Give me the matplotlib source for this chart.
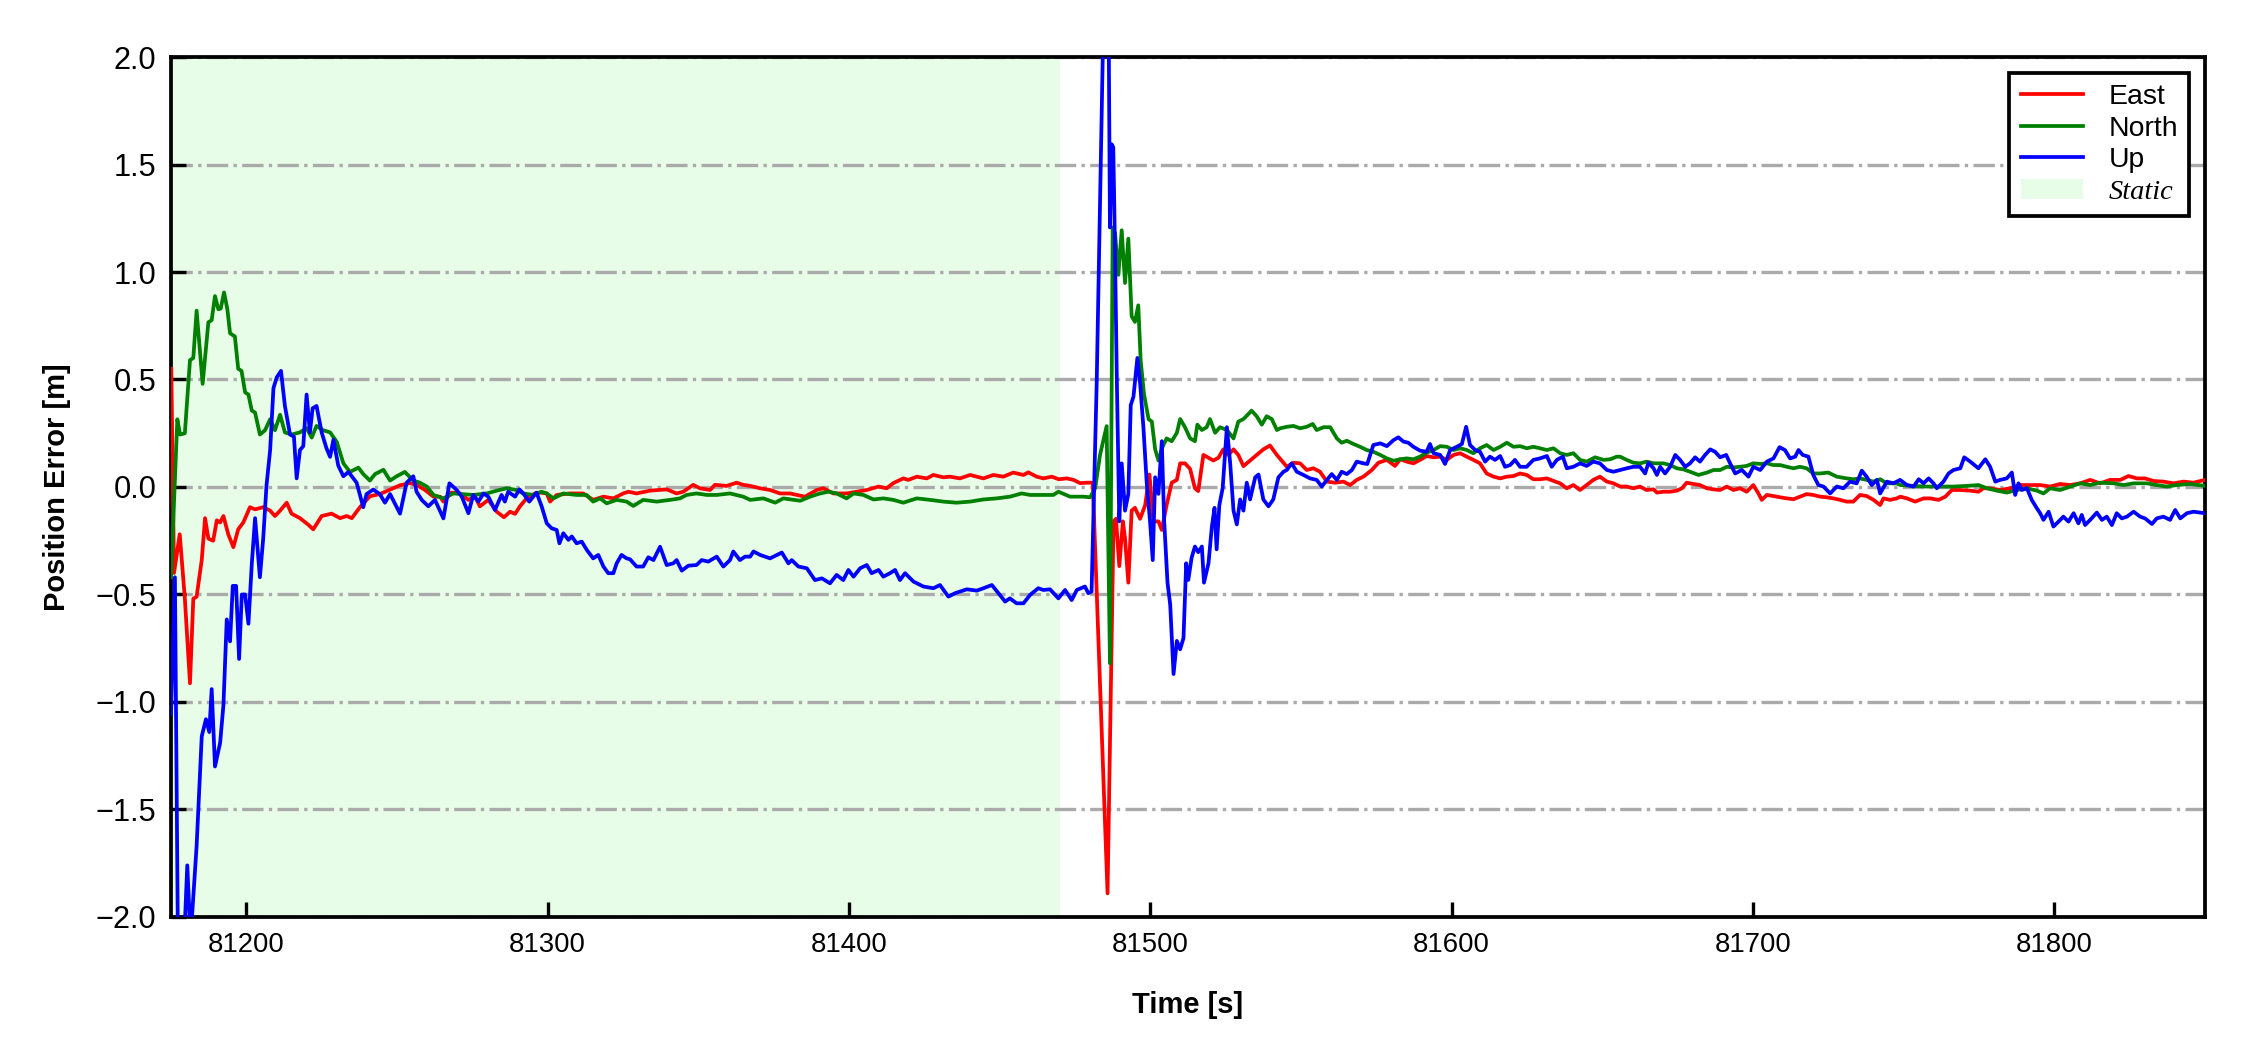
import numpy as np
import matplotlib.pyplot as plt
from matplotlib.patches import Patch
from matplotlib.lines import Line2D

# ---- data (time in s, error in m) ----
t_east = [81175.1, 81176.0, 81177.9, 81179.6, 81181.3, 81182.4, 81183.5, 81185.2, 81186.3, 81187.4,
          81189.0, 81190.2, 81191.3, 81192.4, 81194.0, 81195.7, 81197.3, 81199.0, 81201.2, 81202.9,
          81205.6, 81207.9, 81209.5, 81211.2, 81213.4, 81215.0, 81217.8, 81220.6, 81222.2, 81225.0,
          81228.3, 81231.1, 81233.3, 81235.0, 81237.7, 81241.0, 81244.3, 81247.7, 81251.0, 81254.3,
          81256.5, 81259.3, 81262.1, 81264.3, 81265.4, 81268.1, 81270.9, 81273.7, 81275.9, 81277.5,
          81280.3, 81283.1, 81285.5, 81287.5, 81289.2, 81290.8, 81293.0, 81295.8, 81297.5, 81299.7,
          81300.8, 81303.0, 81307.4, 81311.8, 81315.1, 81318.5, 81321.8, 81325.1, 81326.8, 81329.5,
          81334.0, 81336.7, 81339.5, 81342.8, 81345.0, 81348.3, 81350.5, 81353.9, 81355.5, 81359.4,
          81362.7, 81364.9, 81367.2, 81370.5, 81373.8, 81377.1, 81380.4, 81385.4, 81389.3, 81391.5,
          81394.8, 81399.2, 81402.6, 81405.9, 81409.8, 81412.5, 81414.7, 81418.0, 81419.7, 81422.5,
          81425.8, 81428.0, 81431.3, 81433.5, 81436.8, 81440.2, 81444.6, 81447.9, 81451.2, 81454.5,
          81457.9, 81459.5, 81462.3, 81464.5, 81467.3, 81469.6, 81472.2, 81474.5, 81476.7, 81478.9,
          81480.9, 81485.8, 81487.8, 81488.6, 81489.7, 81490.9, 81491.6, 81492.7, 81493.8, 81494.9,
          81496.6, 81498.3, 81499.7, 81501.0, 81502.7, 81503.8, 81505.4, 81507.1, 81508.8, 81509.9,
          81511.5, 81513.2, 81514.8, 81515.9, 81517.6, 81519.3, 81520.9, 81522.6, 81524.2, 81525.9,
          81527.6, 81529.2, 81530.9, 81533.1, 81535.3, 81537.5, 81539.7, 81542.0, 81545.3, 81547.5,
          81549.7, 81551.9, 81554.1, 81556.3, 81558.6, 81561.3, 81564.1, 81566.3, 81568.5, 81570.7,
          81573.5, 81575.7, 81578.5, 81581.2, 81582.9, 81585.1, 81587.3, 81589.5, 81591.7, 81594.0,
          81596.2, 81598.4, 81600.6, 81602.8, 81605.0, 81607.2, 81609.4, 81611.6, 81613.9, 81616.1,
          81618.3, 81620.5, 81622.7, 81624.9, 81627.1, 81629.3, 81631.6, 81633.8, 81636.0, 81638.2,
          81640.4, 81642.6, 81644.8, 81647.0, 81649.2, 81651.5, 81653.7, 81655.9, 81658.1, 81660.3,
          81662.5, 81664.7, 81667.0, 81668.1, 81670.3, 81672.5, 81674.7, 81676.4, 81678.0, 81680.2,
          81682.4, 81684.7, 81686.9, 81689.1, 81691.3, 81693.5, 81695.7, 81697.9, 81700.1, 81701.8,
          81702.9, 81704.6, 81706.8, 81709.0, 81711.2, 81713.4, 81715.6, 81717.8, 81720.0, 81722.3,
          81724.5, 81726.7, 81728.9, 81731.1, 81733.3, 81735.5, 81737.7, 81740.0, 81742.2, 81743.3,
          81745.5, 81747.7, 81748.9, 81751.1, 81753.8, 81756.6, 81758.8, 81761.6, 81763.8, 81766.0,
          81768.8, 81772.1, 81774.8, 81776.5, 81778.7, 81782.0, 81785.4, 81788.7, 81792.0, 81795.3,
          81798.6, 81801.9, 81805.3, 81808.6, 81811.9, 81815.2, 81818.5, 81821.9, 81824.6, 81827.4,
          81830.1, 81832.9, 81836.2, 81839.5, 81842.9, 81846.2, 81850.0]
east = [0.55, -0.40, -0.22, -0.52, -0.913, -0.52, -0.51, -0.34, -0.145, -0.24,
        -0.25, -0.155, -0.165, -0.135, -0.22, -0.28, -0.197, -0.165, -0.094, -0.104,
        -0.094, -0.11, -0.135, -0.11, -0.073, -0.124, -0.145, -0.176, -0.197, -0.135,
        -0.124, -0.145, -0.135, -0.145, -0.094, -0.043, -0.033, -0.012, 0.008, 0.018,
        0.01, -0.014, -0.045, -0.045, -0.068, -0.026, -0.03, -0.06, -0.045, -0.09,
        -0.06, -0.115, -0.141, -0.115, -0.125, -0.09, -0.053, -0.03, -0.026, -0.03,
        -0.068, -0.037, -0.03, -0.03, -0.06, -0.045, -0.053, -0.03, -0.022, -0.03,
        -0.017, -0.014, -0.011, -0.03, -0.022, 0.01, -0.006, -0.014, 0.01, 0.005,
        0.02, 0.01, 0.005, -0.006, -0.014, -0.03, -0.03, -0.045, -0.014, -0.006,
        -0.03, -0.03, -0.022, -0.014, 0.002, -0.006, 0.018, 0.04, 0.033, 0.048,
        0.04, 0.056, 0.045, 0.048, 0.04, 0.056, 0.04, 0.056, 0.048, 0.067,
        0.056, 0.068, 0.048, 0.04, 0.048, 0.036, 0.04, 0.033, 0.018, 0.02,
        0.02, -1.89, -0.16, -0.148, -0.368, -0.16, -0.239, -0.445, -0.11, -0.097,
        -0.148, -0.084, 0.058, -0.16, -0.16, -0.2, -0.084, 0.02, 0.033, 0.11,
        0.11, 0.084, -0.006, -0.019, 0.149, 0.136, 0.123, 0.136, 0.175, 0.149,
        0.175, 0.149, 0.097, 0.123, 0.149, 0.175, 0.193, 0.149, 0.094, 0.113,
        0.11, 0.079, 0.087, 0.071, 0.025, 0.02, 0.025, 0.009, 0.033, 0.048,
        0.079, 0.113, 0.126, 0.098, 0.129, 0.118, 0.11, 0.126, 0.144, 0.138,
        0.141, 0.126, 0.149, 0.157, 0.141, 0.126, 0.11, 0.063, 0.048, 0.04,
        0.048, 0.051, 0.063, 0.056, 0.036, 0.036, 0.04, 0.028, 0.017, -0.006,
        0.009, -0.014, 0.009, 0.033, 0.048, 0.025, 0.017, 0.002, 0.002, -0.006,
        0.002, -0.014, -0.011, -0.026, -0.022, -0.022, -0.017, -0.006, 0.02, 0.014,
        0.009, -0.006, -0.011, -0.014, 0.002, -0.014, -0.006, -0.022, 0.009, -0.03,
        -0.06, -0.037, -0.042, -0.048, -0.053, -0.057, -0.045, -0.033, -0.037, -0.045,
        -0.048, -0.053, -0.06, -0.068, -0.068, -0.037, -0.042, -0.06, -0.084, -0.053,
        -0.06, -0.053, -0.045, -0.053, -0.068, -0.053, -0.053, -0.06, -0.045, -0.014,
        -0.014, -0.017, -0.022, -0.006, -0.006, -0.014, -0.006, 0.009, 0.009, 0.009,
        0.002, 0.014, 0.009, 0.017, 0.033, 0.017, 0.033, 0.033, 0.051, 0.04,
        0.04, 0.028, 0.025, 0.017, 0.025, 0.02, 0.033]

t_north = [81175.0, 81177.1, 81178.0, 81179.6, 81181.3, 81182.4, 81183.5, 81185.5, 81187.4, 81188.5,
           81189.6, 81190.7, 81191.5, 81192.6, 81193.7, 81194.6, 81196.2, 81197.3, 81198.4, 81199.6,
           81200.7, 81201.8, 81202.9, 81204.5, 81206.2, 81207.9, 81209.5, 81211.2, 81212.8, 81215.0,
           81217.8, 81220.0, 81221.7, 81223.3, 81225.5, 81227.8, 81230.0, 81232.2, 81234.4, 81237.2,
           81238.8, 81241.0, 81242.7, 81245.5, 81247.7, 81249.9, 81252.6, 81255.4, 81257.6, 81259.9,
           81262.1, 81265.4, 81268.7, 81272.6, 81275.3, 81279.8, 81283.1, 81286.4, 81289.7, 81291.9,
           81295.2, 81298.0, 81299.7, 81301.9, 81305.2, 81309.6, 81312.9, 81315.1, 81317.4, 81319.6,
           81322.9, 81326.2, 81328.4, 81331.7, 81336.2, 81340.6, 81343.9, 81346.1, 81349.4, 81352.8,
           81356.1, 81360.5, 81364.9, 81367.2, 81371.6, 81375.5, 81378.2, 81383.8, 81387.1, 81390.4,
           81393.2, 81395.9, 81399.2, 81401.5, 81404.8, 81408.1, 81411.4, 81414.7, 81418.0, 81422.5,
           81426.9, 81431.3, 81435.7, 81440.2, 81444.6, 81449.0, 81453.4, 81457.3, 81460.1, 81463.4,
           81467.8, 81469.5, 81473.4, 81477.8, 81480.0, 81481.7, 81483.3, 81485.5, 81486.6, 81487.5,
           81488.3, 81489.4, 81490.5, 81491.6, 81492.7, 81493.8, 81494.9, 81496.0, 81496.8, 81497.9,
           81499.4, 81500.5, 81501.6, 81502.7, 81504.1, 81505.4, 81507.1, 81508.8, 81509.9, 81511.5,
           81513.2, 81514.8, 81515.6, 81517.1, 81518.7, 81519.8, 81521.5, 81523.1, 81525.4, 81527.6,
           81529.2, 81530.9, 81533.6, 81535.3, 81537.0, 81538.6, 81540.3, 81542.0, 81543.1, 81545.3,
           81547.5, 81549.7, 81551.9, 81553.9, 81555.2, 81557.5, 81559.7, 81561.9, 81563.5, 81565.2,
           81567.4, 81569.6, 81571.8, 81574.0, 81576.3, 81578.5, 81580.7, 81582.9, 81585.1, 81587.3,
           81589.5, 81591.7, 81594.0, 81596.2, 81598.4, 81600.6, 81602.8, 81605.0, 81607.2, 81609.4,
           81611.6, 81613.9, 81616.1, 81618.3, 81620.5, 81622.7, 81624.9, 81627.1, 81629.3, 81631.6,
           81633.8, 81636.0, 81638.2, 81640.4, 81642.6, 81644.8, 81647.6, 81650.4, 81652.6, 81654.8,
           81655.9, 81658.1, 81660.3, 81662.5, 81664.7, 81667.0, 81670.3, 81672.5, 81674.7, 81676.9,
           81679.1, 81681.9, 81684.7, 81686.9, 81689.1, 81691.3, 81693.5, 81695.7, 81697.9, 81700.1,
           81702.4, 81704.6, 81706.8, 81709.0, 81711.2, 81713.4, 81715.6, 81717.8, 81720.0, 81722.3,
           81725.0, 81727.8, 81731.1, 81733.3, 81735.5, 81737.7, 81740.0, 81742.2, 81744.4, 81747.7,
           81748.9, 81753.3, 81757.7, 81762.1, 81766.5, 81771.0, 81774.8, 81777.6, 81780.9, 81784.2,
           81787.6, 81790.9, 81794.2, 81796.4, 81798.6, 81801.9, 81805.3, 81808.6, 81811.9, 81815.2,
           81819.6, 81823.0, 81826.3, 81830.7, 81834.0, 81837.3, 81840.6, 81845.1, 81850.0]
north = [-0.42, 0.315, 0.244, 0.25, 0.59, 0.60, 0.82, 0.48, 0.766, 0.776,
         0.888, 0.827, 0.83, 0.905, 0.827, 0.715, 0.70, 0.55, 0.54, 0.44,
         0.43, 0.356, 0.346, 0.244, 0.264, 0.315, 0.264, 0.336, 0.254, 0.244,
         0.254, 0.274, 0.23, 0.284, 0.264, 0.254, 0.21, 0.11, 0.07, 0.09,
         0.06, 0.03, 0.06, 0.08, 0.03, 0.05, 0.07, 0.03, 0.02, 0.002,
         -0.037, -0.053, -0.03, -0.034, -0.037, -0.03, -0.017, -0.006, -0.014, -0.03,
         -0.037, -0.022, -0.03, -0.053, -0.03, -0.037, -0.037, -0.068, -0.053, -0.076,
         -0.06, -0.068, -0.088, -0.06, -0.068, -0.06, -0.053, -0.037, -0.03, -0.037,
         -0.037, -0.03, -0.045, -0.06, -0.053, -0.073, -0.053, -0.064, -0.045, -0.03,
         -0.022, -0.03, -0.053, -0.03, -0.037, -0.058, -0.053, -0.06, -0.073, -0.053,
         -0.06, -0.068, -0.073, -0.068, -0.058, -0.053, -0.045, -0.03, -0.037, -0.037,
         -0.037, -0.022, -0.045, -0.045, -0.048, -0.006, 0.149, 0.283, -0.82, 1.207,
         1.18, 0.987, 1.194, 0.949, 1.155, 0.794, 0.768, 0.845, 0.587, 0.432,
         0.316, 0.304, 0.175, 0.123, 0.188, 0.226, 0.213, 0.252, 0.316, 0.278,
         0.226, 0.213, 0.29, 0.265, 0.278, 0.316, 0.252, 0.278, 0.265, 0.226,
         0.304, 0.316, 0.355, 0.329, 0.29, 0.329, 0.316, 0.265, 0.273, 0.28,
         0.284, 0.273, 0.28, 0.293, 0.265, 0.278, 0.278, 0.226, 0.206, 0.215,
         0.2, 0.187, 0.172, 0.164, 0.149, 0.133, 0.122, 0.129, 0.133, 0.129,
         0.141, 0.16, 0.172, 0.19, 0.187, 0.172, 0.18, 0.172, 0.157, 0.18,
         0.195, 0.172, 0.187, 0.206, 0.187, 0.19, 0.18, 0.187, 0.18, 0.172,
         0.18, 0.157, 0.149, 0.157, 0.126, 0.118, 0.138, 0.126, 0.129, 0.141,
         0.141, 0.126, 0.113, 0.11, 0.118, 0.11, 0.11, 0.102, 0.087, 0.082,
         0.071, 0.056, 0.067, 0.079, 0.079, 0.094, 0.091, 0.094, 0.098, 0.11,
         0.107, 0.11, 0.102, 0.102, 0.094, 0.087, 0.094, 0.087, 0.063, 0.063,
         0.067, 0.048, 0.04, 0.036, 0.04, 0.033, 0.025, 0.036, 0.017, 0.017,
         0.009, 0.005, 0.002, 0.002, 0.002, 0.005, 0.009, -0.006, -0.017, -0.026,
         -0.014, -0.006, -0.017, -0.03, -0.006, -0.014, 0.002, 0.017, 0.009, 0.02,
         0.017, 0.009, 0.017, 0.017, 0.009, 0.002, 0.009, 0.014, 0.005]

t_up = [81175.0, 81176.3, 81177.4, 81179.1, 81180.4, 81181.5, 81183.5, 81185.2, 81186.6, 81187.7,
        81188.5, 81189.6, 81191.3, 81192.4, 81193.5, 81194.6, 81195.5, 81196.6, 81197.6, 81198.5,
        81199.6, 81200.7, 81201.8, 81202.9, 81204.5, 81205.6, 81206.7, 81207.9, 81209.0, 81210.1,
        81211.5, 81212.8, 81214.5, 81215.8, 81216.7, 81217.8, 81218.9, 81220.0, 81221.1, 81222.0,
        81223.3, 81225.0, 81226.6, 81227.8, 81228.9, 81230.5, 81232.2, 81233.9, 81236.6, 81238.8,
        81239.9, 81242.1, 81244.3, 81246.0, 81247.7, 81251.0, 81253.2, 81255.4, 81256.5, 81258.2,
        81260.4, 81262.6, 81265.4, 81267.4, 81269.8, 81271.5, 81273.7, 81275.3, 81277.0, 81278.7,
        81280.3, 81282.5, 81284.7, 81285.8, 81286.9, 81289.2, 81290.6, 81291.9, 81293.9, 81296.3,
        81298.0, 81299.7, 81301.3, 81303.0, 81303.9, 81305.2, 81306.9, 81308.0, 81309.6, 81311.3,
        81313.0, 81315.1, 81316.8, 81318.5, 81320.1, 81321.8, 81322.9, 81324.5, 81326.2, 81327.3,
        81329.5, 81331.7, 81333.4, 81335.1, 81337.3, 81339.5, 81341.7, 81342.8, 81344.5, 81346.7,
        81349.4, 81351.1, 81353.3, 81356.1, 81358.3, 81360.5, 81361.6, 81363.8, 81365.5, 81367.2,
        81368.3, 81370.5, 81373.8, 81377.7, 81379.9, 81381.0, 81383.2, 81386.0, 81388.7, 81391.0,
        81393.7, 81395.9, 81398.1, 81399.8, 81401.5, 81403.7, 81405.9, 81407.5, 81409.8, 81411.4,
        81413.6, 81415.3, 81416.9, 81418.6, 81421.4, 81424.7, 81428.0, 81430.2, 81433.0, 81435.2,
        81439.1, 81442.4, 81444.6, 81447.4, 81449.6, 81451.8, 81453.4, 81455.6, 81457.9, 81460.1,
        81462.8, 81464.5, 81466.7, 81469.5, 81471.7, 81473.9, 81475.6, 81478.3, 81479.4, 81480.5,
        81482.2, 81483.9, 81484.6, 81486.1, 81486.6, 81487.2, 81487.7, 81488.1, 81488.9, 81489.7,
        81490.5, 81491.6, 81492.7, 81493.5, 81494.4, 81495.7, 81496.6, 81497.7, 81498.8, 81499.9,
        81500.8, 81501.6, 81502.7, 81503.8, 81504.6, 81505.7, 81506.6, 81507.7, 81508.8, 81509.9,
        81511.0, 81511.9, 81512.6, 81513.7, 81514.8, 81515.9, 81517.1, 81517.8, 81519.3, 81520.4,
        81521.3, 81522.0, 81522.9, 81524.0, 81525.4, 81526.5, 81527.6, 81528.7, 81529.8, 81530.9,
        81532.0, 81533.1, 81534.8, 81535.9, 81537.5, 81539.2, 81540.8, 81542.5, 81544.2, 81545.3,
        81546.9, 81548.6, 81550.8, 81553.0, 81555.2, 81556.9, 81558.6, 81560.2, 81561.9, 81563.5,
        81565.2, 81566.9, 81568.5, 81570.7, 81572.0, 81574.0, 81576.3, 81578.5, 81580.7, 81582.3,
        81584.0, 81585.6, 81587.3, 81589.5, 81591.7, 81592.8, 81594.0, 81596.2, 81597.8, 81599.5,
        81601.7, 81603.4, 81604.8, 81606.1, 81607.8, 81609.4, 81611.1, 81612.7, 81614.4, 81616.1,
        81617.7, 81619.4, 81621.0, 81622.7, 81624.9, 81627.1, 81629.3, 81631.6, 81633.2, 81634.9,
        81636.9, 81638.2, 81640.4, 81642.6, 81644.8, 81647.0, 81649.2, 81651.5, 81653.7, 81655.9,
        81658.1, 81660.3, 81662.5, 81664.2, 81665.3, 81667.0, 81668.1, 81669.2, 81670.8, 81672.5,
        81674.2, 81675.8, 81677.5, 81679.1, 81680.8, 81682.4, 81684.1, 81685.8, 81687.4, 81689.1,
        81691.1, 81692.4, 81694.1, 81696.3, 81698.5, 81700.1, 81702.4, 81704.6, 81706.8, 81708.8,
        81710.6, 81712.3, 81714.0, 81715.1, 81716.5, 81718.4, 81720.0, 81721.7, 81723.4, 81725.6,
        81727.8, 81730.0, 81732.2, 81734.4, 81736.1, 81737.7, 81739.4, 81741.1, 81742.2, 81744.4,
        81746.6, 81748.8, 81751.1, 81753.3, 81755.0, 81756.6, 81758.3, 81759.9, 81761.0, 81763.2,
        81764.9, 81766.5, 81768.8, 81770.1, 81772.1, 81774.8, 81777.1, 81778.7, 81780.4, 81782.0,
        81784.2, 81785.9, 81787.0, 81788.1, 81789.2, 81790.9, 81792.5, 81794.2, 81795.3, 81796.4,
        81798.1, 81799.7, 81801.4, 81803.0, 81804.7, 81806.4, 81808.0, 81809.1, 81810.2, 81811.9,
        81814.1, 81815.8, 81817.4, 81819.1, 81820.7, 81822.4, 81824.1, 81826.3, 81828.5, 81830.1,
        81832.4, 81834.0, 81836.2, 81838.4, 81840.1, 81841.8, 81844.0, 81846.2, 81850.0]
up = [-1.056, -0.42, -2.3, -2.2, -1.76, -2.1, -1.67, -1.16, -1.08, -1.14,
      -0.94, -1.30, -1.19, -1.015, -0.616, -0.718, -0.46, -0.46, -0.80, -0.50,
      -0.50, -0.636, -0.36, -0.145, -0.42, -0.24, 0.008, 0.172, 0.46, 0.51,
      0.54, 0.377, 0.244, 0.234, 0.04, 0.172, 0.19, 0.43, 0.254, 0.366,
      0.377, 0.254, 0.18, 0.14, 0.22, 0.10, 0.05, 0.07, 0.02, -0.094,
      -0.033, -0.012, -0.033, -0.073, -0.033, -0.124, 0.02, 0.05, -0.022, -0.06,
      -0.09, -0.06, -0.146, 0.017, -0.014, -0.045, -0.122, -0.037, -0.068, -0.03,
      -0.045, -0.107, -0.037, -0.068, -0.022, -0.045, -0.011, -0.03, -0.068, -0.026,
      -0.09, -0.169, -0.192, -0.2, -0.262, -0.215, -0.246, -0.23, -0.262, -0.254,
      -0.293, -0.332, -0.316, -0.37, -0.401, -0.401, -0.355, -0.316, -0.332, -0.336,
      -0.37, -0.37, -0.327, -0.34, -0.278, -0.363, -0.355, -0.34, -0.389, -0.366,
      -0.363, -0.34, -0.347, -0.324, -0.37, -0.34, -0.3, -0.34, -0.324, -0.324,
      -0.30, -0.316, -0.332, -0.305, -0.355, -0.34, -0.37, -0.378, -0.433, -0.425,
      -0.448, -0.409, -0.433, -0.386, -0.417, -0.378, -0.363, -0.401, -0.386, -0.417,
      -0.401, -0.386, -0.433, -0.401, -0.44, -0.463, -0.471, -0.456, -0.51, -0.494,
      -0.476, -0.482, -0.471, -0.456, -0.494, -0.533, -0.518, -0.541, -0.541, -0.502,
      -0.471, -0.479, -0.476, -0.518, -0.479, -0.526, -0.479, -0.463, -0.494, -0.487,
      0.484, 1.77, 2.3, 2.3, 1.207, 1.594, 1.58, 1.258, 0.484, -0.16,
      0.11, -0.11, -0.032, 0.381, 0.42, 0.6, 0.484, 0.278, 0.02, -0.16,
      -0.34, 0.045, -0.032, 0.213, -0.16, -0.445, -0.548, -0.87, -0.716, -0.755,
      -0.703, -0.355, -0.432, -0.329, -0.277, -0.303, -0.277, -0.445, -0.355, -0.187,
      -0.097, -0.29, -0.084, -0.006, 0.278, 0.11, -0.11, -0.174, -0.058, -0.11,
      0.02, -0.058, 0.045, 0.058, -0.058, -0.09, -0.058, 0.045, 0.071, 0.079,
      0.11, 0.071, 0.056, 0.04, 0.033, 0.002, 0.033, 0.06, 0.033, 0.071,
      0.06, 0.079, 0.118, 0.11, 0.107, 0.195, 0.203, 0.19, 0.218, 0.231,
      0.211, 0.206, 0.187, 0.169, 0.164, 0.2, 0.157, 0.149, 0.107, 0.172,
      0.187, 0.2, 0.28, 0.195, 0.172, 0.164, 0.118, 0.141, 0.126, 0.144,
      0.094, 0.102, 0.126, 0.094, 0.094, 0.126, 0.133, 0.144, 0.094, 0.126,
      0.141, 0.087, 0.094, 0.11, 0.098, 0.118, 0.11, 0.079, 0.071, 0.079,
      0.087, 0.094, 0.094, 0.063, 0.113, 0.087, 0.056, 0.094, 0.063, 0.094,
      0.149, 0.126, 0.094, 0.11, 0.138, 0.118, 0.149, 0.175, 0.164, 0.138,
      0.149, 0.11, 0.063, 0.079, 0.048, 0.094, 0.079, 0.118, 0.133, 0.185,
      0.172, 0.133, 0.141, 0.172, 0.149, 0.141, 0.056, 0.009, 0.002, -0.03,
      0.002, -0.006, 0.025, 0.017, 0.076, 0.048, 0.009, 0.033, -0.03, 0.025,
      0.017, 0.033, 0.009, 0.002, 0.036, 0.017, 0.04, 0.017, -0.006, 0.025,
      0.063, 0.079, 0.087, 0.138, 0.118, 0.087, 0.129, 0.094, 0.025, 0.033,
      0.04, 0.067, -0.037, 0.017, -0.014, -0.006, -0.06, -0.099, -0.122, -0.153,
      -0.115, -0.184, -0.161, -0.138, -0.161, -0.122, -0.169, -0.13, -0.177, -0.153,
      -0.119, -0.153, -0.138, -0.177, -0.122, -0.146, -0.138, -0.115, -0.138, -0.146,
      -0.172, -0.146, -0.138, -0.153, -0.107, -0.146, -0.122, -0.115, -0.122]

static_end = 81470
x_lim = (81175, 81850)
y_lim = (-2.0, 2.0)

plt.rcParams['font.family'] = ['Liberation Sans', 'DejaVu Sans']

fig = plt.figure(figsize=(7.5, 3.5), dpi=300)
ax = fig.add_axes([0.076, 0.1267, 0.904, 0.819])

ax.axvspan(x_lim[0], static_end, color='#e8fde8', lw=0, zorder=0)
ax.plot(t_east, east, color='red', lw=0.9, label='East', zorder=3)
ax.plot(t_north, north, color='green', lw=0.9, label='North', zorder=3)
ax.plot(t_up, up, color='blue', lw=0.9, label='Up', zorder=4)

ax.set_xlim(*x_lim)
ax.set_ylim(*y_lim)
ax.set_xticks(np.arange(81200, 81801, 100))
ax.set_yticks(np.arange(-2.0, 2.01, 0.5))
ax.tick_params(direction='in', length=3.5, width=0.8, top=False, right=False)
ax.tick_params(axis='x', labelsize=6.6)
ax.tick_params(axis='y', labelsize=7.4)
ax.yaxis.grid(True, linestyle='-.', color='#aaaaaa', lw=0.8, zorder=1)
ax.set_axisbelow(True)
for s in ax.spines.values():
    s.set_linewidth(0.9)

ax.set_xlabel('Time [s]', fontsize=7, fontweight='bold', labelpad=8)
ax.set_ylabel('Position Error [m]', fontsize=7, fontweight='bold', labelpad=6)

handles = [Line2D([], [], color='red', lw=0.9),
           Line2D([], [], color='green', lw=0.9),
           Line2D([], [], color='blue', lw=0.9),
           Patch(facecolor='#e8fde8', edgecolor='none')]
leg = ax.legend(handles, ['East', 'North', 'Up', 'Static'], loc='upper right',
                fontsize=6.8, frameon=True, fancybox=False, framealpha=1,
                edgecolor='black', handlelength=2.2, labelspacing=0.2,
                borderpad=0.4, handletextpad=0.9, borderaxespad=0.55)
leg.get_frame().set_linewidth(0.9)
leg.get_texts()[3].set_fontfamily(['Liberation Serif', 'DejaVu Serif'])
leg.get_texts()[3].set_fontstyle('italic')

fig.savefig('out.png', dpi=300)
